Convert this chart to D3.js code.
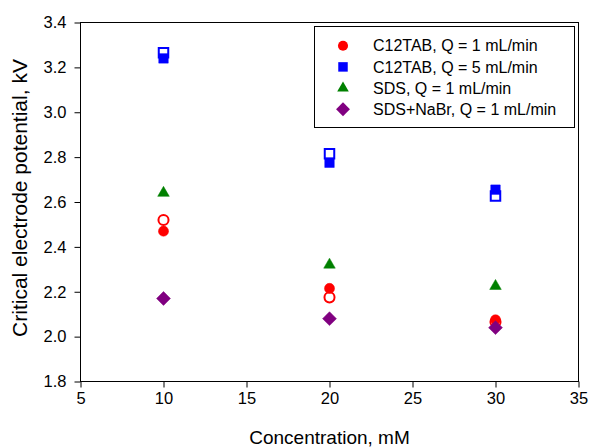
<!DOCTYPE html>
<html>
<head>
<meta charset="utf-8">
<script src="https://cdn.jsdelivr.net/npm/d3@7"></script>
<style>
  body { margin: 0; background: #fff; }
  svg text { font-family: "Liberation Sans", Arial, sans-serif; fill: #000; }
</style>
</head>
<body>
<svg id="chart" width="590" height="448"></svg>
<script>
// --- Data ---
const concentration = [10, 20, 30];
const c12tabQ1 = [2.47, 2.215, 2.075];
const c12tabQ1Open = [2.52, 2.175, 2.065];
const c12tabQ5 = [3.24, 2.775, 2.655];
const c12tabQ5Open = [3.265, 2.815, 2.627];
const sdsQ1 = [2.64, 2.32, 2.225];
const sdsNaBrQ1 = [2.17, 2.08, 2.04];

const xTicks = [5, 10, 15, 20, 25, 30, 35];
const yTicks = [1.8, 2.0, 2.2, 2.4, 2.6, 2.8, 3.0, 3.2, 3.4];

const legendLabels = [
    "C12TAB, Q = 1 mL/min",
    "C12TAB, Q = 5 mL/min",
    "SDS, Q = 1 mL/min",
    "SDS+NaBr, Q = 1 mL/min"
];

const CONFIG = {
    left: 80.5, right: 578.5, top: 22.5, bottom: 381.5,
    colors: { red: "#ff0000", blue: "#0000ff", green: "#008000", purple: "#800080" }
};

const svg = d3.select("#chart");

const x = d3.scaleLinear().domain([5, 35]).range([CONFIG.left, CONFIG.right]);
const y = d3.scaleLinear().domain([1.8, 3.4]).range([CONFIG.bottom, CONFIG.top]);

// --- Symbols ---
const symbols = {
    circle: d3.symbol().type(d3.symbolCircle).size(80)(),
    square: d3.symbol().type(d3.symbolSquare).size(90)(),
    triangle: d3.symbol().type(d3.symbolTriangle).size(58)(),
    diamond: d3.symbol().type(d3.symbolSquare).size(96)()
};

// --- Axes ---
const xAxis = svg.append("g")
    .attr("transform", `translate(0,${CONFIG.bottom})`)
    .call(d3.axisBottom(x).tickValues(xTicks).tickSize(6).tickPadding(5).tickFormat(d3.format("d")));

const yAxis = svg.append("g")
    .attr("transform", `translate(${CONFIG.left},0)`)
    .call(d3.axisLeft(y).tickValues(yTicks).tickSize(6).tickPadding(8).tickFormat(d3.format(".1f")));

[xAxis, yAxis].forEach(g => {
    g.select(".domain").remove();
    g.selectAll("line").attr("stroke", "#000");
    g.selectAll("text").style("font-size", "16.5px");
});

// frame
svg.append("rect")
    .attr("x", CONFIG.left).attr("y", CONFIG.top)
    .attr("width", CONFIG.right - CONFIG.left)
    .attr("height", CONFIG.bottom - CONFIG.top)
    .attr("fill", "none").attr("stroke", "#000");

// --- Axis titles ---
svg.append("text")
    .attr("x", (CONFIG.left + CONFIG.right) / 2)
    .attr("y", 444)
    .attr("text-anchor", "middle")
    .style("font-size", "19px")
    .text("Concentration, mM");

svg.append("text")
    .attr("transform", "translate(27,198) rotate(-90)")
    .attr("text-anchor", "middle")
    .style("font-size", "21px")
    .text("Critical electrode potential, kV");

// --- Points ---
function drawSeries(values, shape, color, open) {
    svg.append("g")
        .selectAll("path")
        .data(values)
        .join("path")
        .attr("d", symbols[shape])
        .attr("transform", (d, i) => `translate(${x(concentration[i])},${y(d)})` + (shape === "diamond" ? " rotate(45)" : ""))
        .attr("fill", open ? "none" : color)
        .attr("stroke", color)
        .attr("stroke-width", open ? 2 : 0.5);
}

drawSeries(c12tabQ1Open, "circle", CONFIG.colors.red, true);
drawSeries(c12tabQ1, "circle", CONFIG.colors.red, false);
drawSeries(c12tabQ5Open, "square", CONFIG.colors.blue, true);
drawSeries(c12tabQ5, "square", CONFIG.colors.blue, false);
drawSeries(sdsQ1, "triangle", CONFIG.colors.green, false);
drawSeries(sdsNaBrQ1, "diamond", CONFIG.colors.purple, false);

// --- Legend ---
const legend = svg.append("g");
legend.append("rect")
    .attr("x", 314.5).attr("y", 26.5)
    .attr("width", 260).attr("height", 101)
    .attr("fill", "#fff").attr("stroke", "#000");

const legendShapes = ["circle", "square", "triangle", "diamond"];
const legendColors = [CONFIG.colors.red, CONFIG.colors.blue, CONFIG.colors.green, CONFIG.colors.purple];

const rows = legend.selectAll(".row")
    .data(legendLabels)
    .join("g")
    .attr("class", "row")
    .attr("transform", (d, i) => `translate(0,${45.7 + i * 21.2})`);

rows.append("path")
    .attr("d", (d, i) => symbols[legendShapes[i]])
    .attr("transform", (d, i) => `translate(343,0)` + (legendShapes[i] === "diamond" ? " rotate(45)" : ""))
    .attr("fill", (d, i) => legendColors[i]);

rows.append("text")
    .attr("x", 373)
    .attr("dy", "0.36em")
    .style("font-size", "16px")
    .text(d => d);
</script>
</body>
</html>
